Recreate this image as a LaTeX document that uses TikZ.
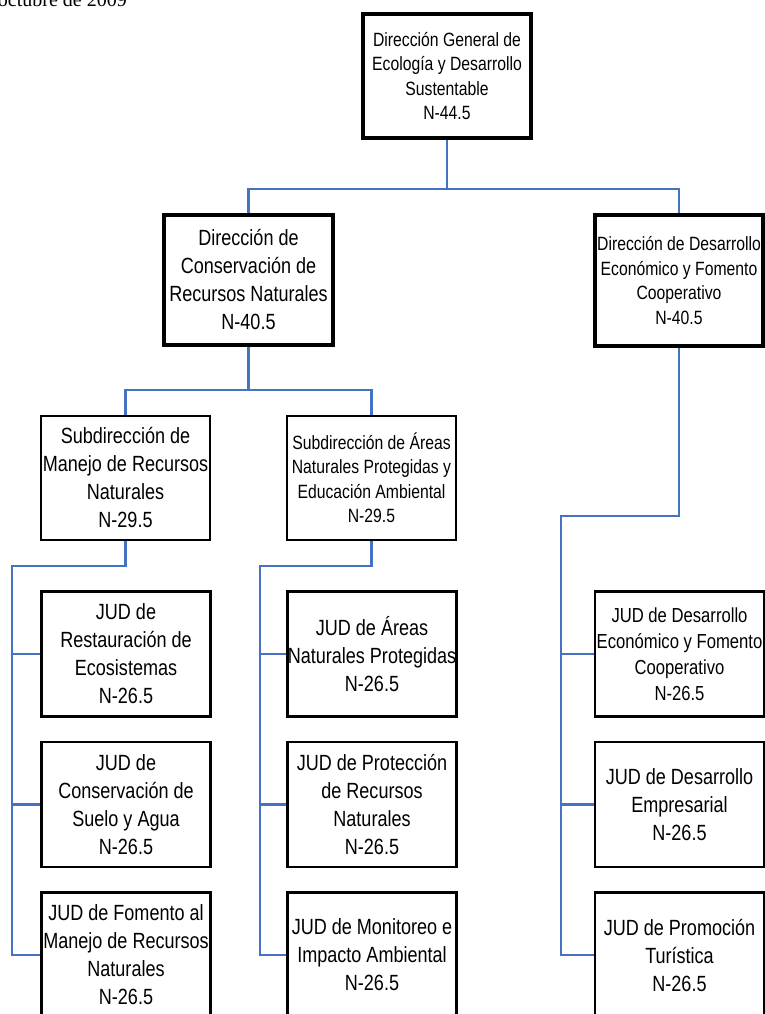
\documentclass[tikz,border=0pt]{standalone}
\usepackage{fontspec}
\setmainfont{Liberation Sans}
\newfontfamily\boxfont{Liberation Sans}[FakeStretch=0.82]
\newfontfamily\datefont{Liberation Serif}
\definecolor{linkblue}{RGB}{68,114,196}
\begin{document}
\begin{tikzpicture}[x=1pt,y=-1pt,
  unit/.style={draw=black, line width=2.3pt, fill=white, align=center, inner sep=0pt,
    minimum width=169pt, minimum height=125pt, font=\boxfont\fontsize{22}{28}\selectfont},
  head/.style={unit, line width=4pt},
  small/.style={font=\boxfont\fontsize{19.2}{24.5}\selectfont},
  mid/.style={font=\boxfont\fontsize{20.3}{26}\selectfont},
  conn/.style={draw=linkblue, line width=2.9pt}]
\useasboundingbox (0,0) rectangle (765,1014);

% date line at the top edge
\node[anchor=base east, inner sep=0pt, font=\datefont\fontsize{20}{24}\selectfont] (fecha) at (127,6.5) {octubre de 2009};

% top level
\node[head, small, minimum width=168pt, minimum height=124pt] (dg) at (447,76)
  {Dirección General de\\Ecología y Desarrollo\\Sustentable\\N-44.5};

% directorates
\node[head, minimum width=169pt, minimum height=130pt] (dcrn) at (248.5,280)
  {Dirección de\\Conservación de\\Recursos Naturales\\N-40.5};
\node[head, small, minimum width=168pt, minimum height=131pt] (ddefc) at (679,280.5)
  {Dirección de Desarrollo\\Económico y Fomento\\Cooperativo\\N-40.5};

% sub-directorates
\node[unit, minimum height=124pt] (sub1) at (125.5,478)
  {Subdirección de\\Manejo de Recursos\\Naturales\\N-29.5};
\node[unit, small, minimum height=124pt] (sub2) at (371.5,478)
  {Subdirección de Áreas\\Naturales Protegidas y\\Educación Ambiental\\N-29.5};

% JUD units, first column
\node[unit] (j11) at (126,654) {JUD de\\Restauración de\\Ecosistemas\\N-26.5};
\node[unit] (j12) at (126,804.5) {JUD de\\Conservación de\\Suelo y Agua\\N-26.5};
\node[unit] (j13) at (126,955) {JUD de Fomento al\\Manejo de Recursos\\Naturales\\N-26.5};

% JUD units, second column
\node[unit] (j21) at (372,654) {JUD de Áreas\\Naturales Protegidas\\N-26.5};
\node[unit] (j22) at (372,804.5) {JUD de Protección\\de Recursos\\Naturales\\N-26.5};
\node[unit] (j23) at (372,955) {JUD de Monitoreo e\\Impacto Ambiental\\N-26.5};

% JUD units, third column
\node[unit, mid] (j31) at (679.5,654) {JUD de Desarrollo\\Económico y Fomento\\Cooperativo\\N-26.5};
\node[unit] (j32) at (679.5,804.5) {JUD de Desarrollo\\Empresarial\\N-26.5};
\node[unit] (j33) at (679.5,955) {JUD de Promoción\\Turística\\N-26.5};

% junction points
\coordinate (b0) at (0,189);
\coordinate (b1) at (0,390);
\coordinate (k1) at (12,566);
\coordinate (k2) at (260,566);
\coordinate (k3) at (561,516);

% connectors
\draw[conn] (dg.south) -- (dg.south |- b0);
\draw[conn] (dcrn.north) |- (dg.south |- b0) -| (ddefc.north);
\draw[conn] (dcrn.south) -- (dcrn.south |- b1);
\draw[conn] (sub1.north) |- (dcrn.south |- b1) -| (sub2.north);

\draw[conn] (sub1.south) |- (k1) |- (j13.west);
\draw[conn] (j11.west -| k1) -- (j11.west);
\draw[conn] (j12.west -| k1) -- (j12.west);

\draw[conn] (sub2.south) |- (k2) |- (j23.west);
\draw[conn] (j21.west -| k2) -- (j21.west);
\draw[conn] (j22.west -| k2) -- (j22.west);

\draw[conn] (ddefc.south) |- (k3) |- (j33.west);
\draw[conn] (j31.west -| k3) -- (j31.west);
\draw[conn] (j32.west -| k3) -- (j32.west);
\end{tikzpicture}
\end{document}
